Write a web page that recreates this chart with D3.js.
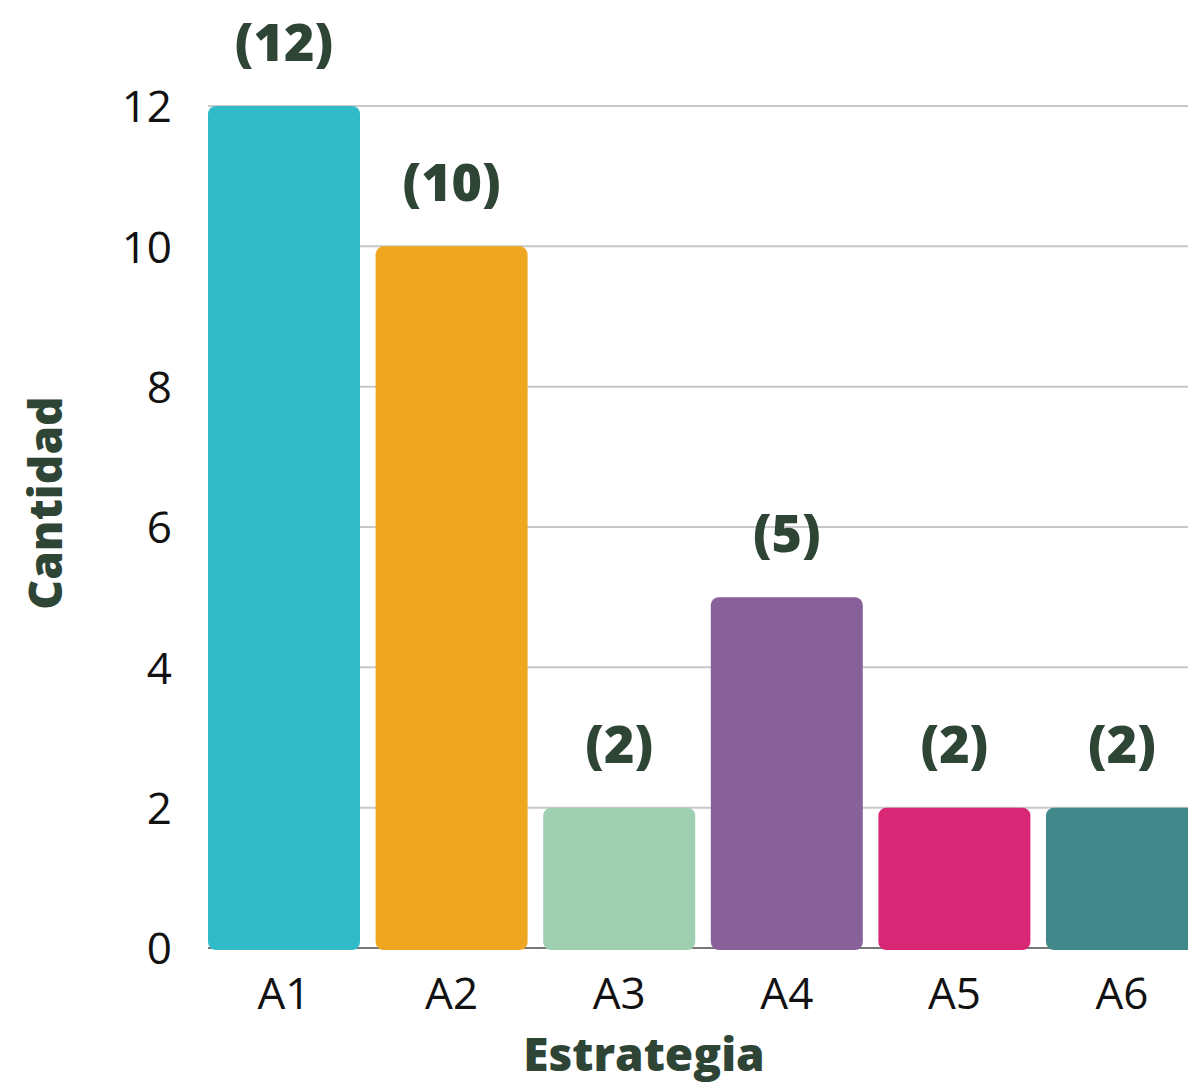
<!DOCTYPE html>
<html><head><meta charset="utf-8">
<script src="https://cdn.jsdelivr.net/npm/d3@7/dist/d3.min.js"></script>
<style>
html,body{margin:0;padding:0;background:#fff;overflow:hidden}
text{font-family:"Open Sans","DejaVu Sans",sans-serif}
</style></head>
<body><svg id="c" width="1188" height="1085"></svg>
<script>
const categories = ["A1","A2","A3","A4","A5","A6"];
const values = [12,10,2,5,2,2];
const valueLabels = ["(12)","(10)","(2)","(5)","(2)","(2)"];
const colors = ["#31BBC8","#EFA722","#9ECFB0","#88619A","#D82775","#40888A"];
const yTicks = [0,2,4,6,8,10,12];

const svg = d3.select("#c");
const x = d3.scaleBand().domain(categories).range([208,1198]).paddingInner(0.093).paddingOuter(0);
const y = d3.scaleLinear().domain([0,12]).range([948,106]);

// gridlines
svg.append("g").selectAll("line").data(yTicks.filter(d=>d>0)).join("line")
  .attr("x1",208).attr("x2",1198).attr("y1",d=>y(d)).attr("y2",d=>y(d))
  .attr("stroke","#c8c8c8").attr("stroke-width",2);
// baseline
svg.append("line").attr("x1",208).attr("x2",1198).attr("y1",y(0)).attr("y2",y(0))
  .attr("stroke","#777").attr("stroke-width",2);

// y axis ticks
const yAxis = d3.axisLeft(y).tickValues(yTicks).tickSize(0).tickPadding(0);
const gy = svg.append("g").attr("transform","translate(172,0)").call(yAxis);
gy.select(".domain").remove();
gy.selectAll("text").attr("font-size",44).attr("fill","#111").attr("font-weight",400)
  .attr("font-family","'Open Sans',sans-serif").attr("dy","0.36em");

// x axis ticks
const xAxis = d3.axisBottom(x).tickSize(0).tickPadding(0);
const gx = svg.append("g").attr("transform","translate(0,993)").call(xAxis);
gx.select(".domain").remove();
gx.selectAll("text").attr("font-size",44).attr("fill","#111").attr("dy","0.36em")
  .attr("font-family","'Open Sans',sans-serif");

// bars
svg.append("g").selectAll("rect").data(categories).join("rect")
  .attr("x",d=>x(d)).attr("width",x.bandwidth())
  .attr("y",(d,i)=>y(values[i])).attr("height",(d,i)=>y(0)+2-y(values[i]))
  .attr("rx",8).attr("ry",8)
  .attr("fill",(d,i)=>colors[i]);

// value labels
svg.append("g").selectAll("text").data(categories).join("text")
  .attr("x",d=>x(d)+x.bandwidth()/2)
  .attr("y",(d,i)=>y(values[i])-45)
  .attr("text-anchor","middle").attr("font-size",52).attr("font-weight",800)
  .attr("fill","#2E4536").text((d,i)=>valueLabels[i]);

// axis titles
svg.append("text").attr("transform","translate(62,503) rotate(-90)")
  .attr("text-anchor","middle").attr("font-size",46).attr("font-weight",800)
  .attr("fill","#2E4536").text("Cantidad");
svg.append("text").attr("x",644).attr("y",1071)
  .attr("text-anchor","middle").attr("font-size",46).attr("font-weight",800)
  .attr("fill","#2E4536").text("Estrategia");
</script></body></html>
